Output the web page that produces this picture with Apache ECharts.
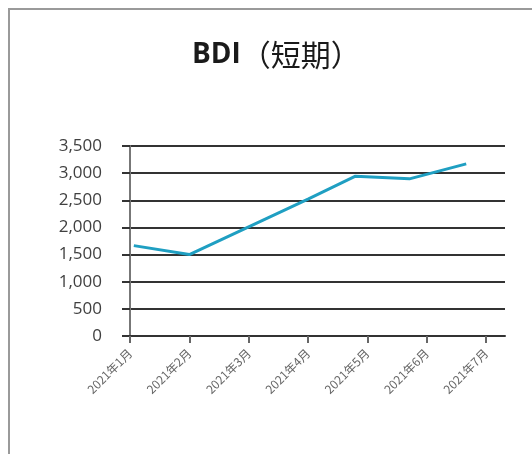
<!DOCTYPE html>
<html>
<head>
<meta charset="utf-8">
<script src="https://cdn.jsdelivr.net/npm/echarts@6/dist/echarts.min.js"></script>
<style>
  html, body { margin: 0; padding: 0; background: #fff; }
  #chart { width: 532px; height: 454px; }
</style>
</head>
<body>
<div id="chart"></div>
<script>
// 月份刻度
const monthLabels = ['2021年1月', '2021年2月', '2021年3月', '2021年4月', '2021年5月', '2021年6月', '2021年7月']
// 数据点日期和数值
const dates = ['2021-01-03', '2021-02-01', '2021-03-01', '2021-04-01', '2021-04-25', '2021-05-23', '2021-06-21']
const values = [1665, 1500, 2010, 2520, 2945, 2895, 3170]
// y轴刻度
const yTicks = [0, 500, 1000, 1500, 2000, 2500, 3000, 3500]

// 日期 -> 月份位置 (0 = 1月1日)
function monthPos(s) {
    var p = s.split('-')
    var m = +p[1] - 1
    var d = +p[2]
    var dim = new Date(+p[0], m + 1, 0).getDate()
    return m + (d - 1) / dim
}

var seriesData = []
for (var i = 0; i < dates.length; i++) {
    seriesData.push([monthPos(dates[i]), values[i]])
}
var tickPos = []
for (var j = 0; j < monthLabels.length; j++) {
    tickPos.push(j)
}

const chart = echarts.init(document.getElementById('chart'))
const option = {
    animation: false,
    title: {
        text: '{b|BDI}{n|（短期）}',
        left: 187,
        top: 35,
        textStyle: {
            rich: {
                b: { fontFamily: 'Open Sans', fontWeight: 'bold', fontSize: 28, color: '#1a1a1a' },
                n: { fontFamily: 'Noto Sans CJK SC', fontWeight: 'normal', fontSize: 30, color: '#1a1a1a' }
            }
        }
    },
    graphic: [{
        type: 'rect',
        shape: { x: 9, y: 9, width: 700, height: 700 },
        style: { fill: 'none', stroke: '#9a9a9a', lineWidth: 2 },
        silent: true
    }],
    grid: {
        left: 130,
        right: 27,
        top: 146,
        bottom: 118,
        outerBoundsMode: 'none'
    },
    xAxis: {
        type: 'value',
        min: 0,
        max: 6.32,
        interval: 1,
        splitLine: { show: false },
        axisLine: { lineStyle: { color: '#333', width: 2 } },
        axisTick: { length: 7, customValues: tickPos, lineStyle: { color: '#666', width: 2 } },
        axisLabel: {
            customValues: tickPos,
            rotate: 45,
            margin: 15,
            fontSize: 12,
            fontFamily: 'Noto Sans CJK SC',
            color: '#666',
            formatter: function (value) {
                return monthLabels[Math.round(value)] || ''
            }
        }
    },
    yAxis: {
        type: 'value',
        min: yTicks[0],
        max: yTicks[yTicks.length - 1],
        interval: 500,
        axisLine: { show: true, lineStyle: { color: '#777', width: 2 } },
        axisTick: { show: true, length: 8, lineStyle: { color: '#333', width: 2 } },
        splitLine: { lineStyle: { color: '#333', width: 2 } },
        axisLabel: {
            margin: 28,
            fontSize: 17,
            fontFamily: 'Open Sans',
            color: '#404040',
            formatter: function (v) {
                return v.toLocaleString('en-US')
            }
        }
    },
    series: [{
        type: 'line',
        data: seriesData,
        symbol: 'none',
        lineStyle: { color: '#1f9fc2', width: 3 }
    }]
}
chart.setOption(option)
</script>
</body>
</html>
